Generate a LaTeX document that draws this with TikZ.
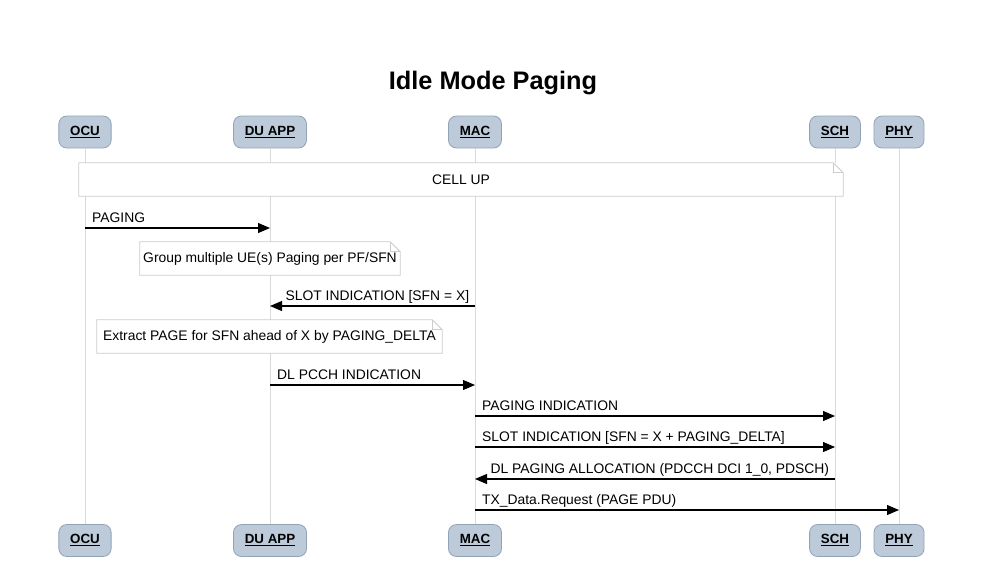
\documentclass[tikz,border=0pt]{standalone}
\usepackage{fontspec}
\setmainfont{Liberation Sans}
\usetikzlibrary{arrows.meta}
\definecolor{boxfill}{HTML}{BCCADA}
\definecolor{boxline}{HTML}{92A3B8}
\definecolor{lifeline}{HTML}{DADADA}
\definecolor{noteline}{HTML}{CCCCCC}
\tikzset{
  actor/.style={draw=boxline, fill=boxfill, rounded corners=6pt, line width=0.6pt,
    minimum height=24pt, inner xsep=8.5pt, font=\fontsize{10}{12}\selectfont\bfseries},
  life/.style={draw=lifeline, line width=0.75pt},
  notebox/.style={fill=white, inner sep=0pt, minimum height=24.75pt,
    font=\fontsize{10.4}{12}\selectfont},
  noteframe/.style={draw=noteline, line width=0.7pt},
  msg/.style={draw=black, line width=0.85pt, -{Triangle[length=9pt,width=7.5pt]}},
  lblr/.style={anchor=base west, inner sep=0pt, xshift=5pt, yshift=4pt, font=\fontsize{10.4}{12}\selectfont},
  lbll/.style={anchor=base east, inner sep=0pt, xshift=-4pt, yshift=4pt, font=\fontsize{10.4}{12}\selectfont},
}
\newcommand{\notebody}[1]{%
  \draw[noteframe] (#1.south west) -- (#1.north west) -- ([xshift=-7.5pt]#1.north east)
    -- ([yshift=-7.5pt]#1.north east) -- (#1.south east) -- cycle;
  \draw[noteframe] ([xshift=-7.5pt]#1.north east) |- ([yshift=-7.5pt]#1.north east);}
\begin{document}
\begin{tikzpicture}[x=0.75pt,y=-0.75pt]
\useasboundingbox[fill=white] (0,0) rectangle (992,569);
\node[font=\fontsize{19}{22}\selectfont\bfseries] (title) at (493,83) {Idle Mode Paging};
% participants
\node[actor] (ocu) at (85,132) {\underline{OCU}};
\node[actor] (du) at (270,132) {\underline{DU APP}};
\node[actor] (mac) at (475,132) {\underline{MAC}};
\node[actor] (sch) at (835,132) {\underline{SCH}};
\node[actor] (phy) at (899,132) {\underline{PHY}};
\node[actor] (ocub) at (85,540.5) {\underline{OCU}};
\node[actor] (dub) at (270,540.5) {\underline{DU APP}};
\node[actor] (macb) at (475,540.5) {\underline{MAC}};
\node[actor] (schb) at (835,540.5) {\underline{SCH}};
\node[actor] (phyb) at (899,540.5) {\underline{PHY}};
% lifelines
\draw[life] (ocu) -- (ocub);
\draw[life] (du) -- (dub);
\draw[life] (mac) -- (macb);
\draw[life] (sch) -- (schb);
\draw[life] (phy) -- (phyb);
% notes
\node[notebox, minimum width=573pt] (cellup) at (461,179.5) {CELL UP};
\notebody{cellup}
\node[notebox, minimum width=195pt] (group) at (270,258.5) {Group multiple UE(s) Paging per PF/SFN};
\notebody{group}
\node[notebox, minimum width=258.75pt] (extract) at (269.5,336.5) {Extract PAGE for SFN ahead of X by PAGING\_DELTA};
\notebody{extract}
% message rows
\coordinate (r1) at (0,228);
\coordinate (r2) at (0,306);
\coordinate (r3) at (0,385);
\coordinate (r4) at (0,416);
\coordinate (r5) at (0,447);
\coordinate (r6) at (0,479);
\coordinate (r7) at (0,510);
\draw[msg] (ocu |- r1) -- (du |- r1) node[pos=0, lblr] {PAGING};
\draw[msg] (mac |- r2) -- (du |- r2) node[pos=0, lbll] {SLOT INDICATION [SFN = X]};
\draw[msg] (du |- r3) -- (mac |- r3) node[pos=0, lblr] {DL PCCH INDICATION};
\draw[msg] (mac |- r4) -- (sch |- r4) node[pos=0, lblr] {PAGING INDICATION};
\draw[msg] (mac |- r5) -- (sch |- r5) node[pos=0, lblr] {SLOT INDICATION [SFN = X + PAGING\_DELTA]};
\draw[msg] (sch |- r6) -- (mac |- r6) node[pos=0, lbll] {DL PAGING ALLOCATION (PDCCH DCI 1\_0, PDSCH)};
\draw[msg] (mac |- r7) -- (phy |- r7) node[pos=0, lblr] {TX\_Data.Request (PAGE PDU)};
\end{tikzpicture}
\end{document}
